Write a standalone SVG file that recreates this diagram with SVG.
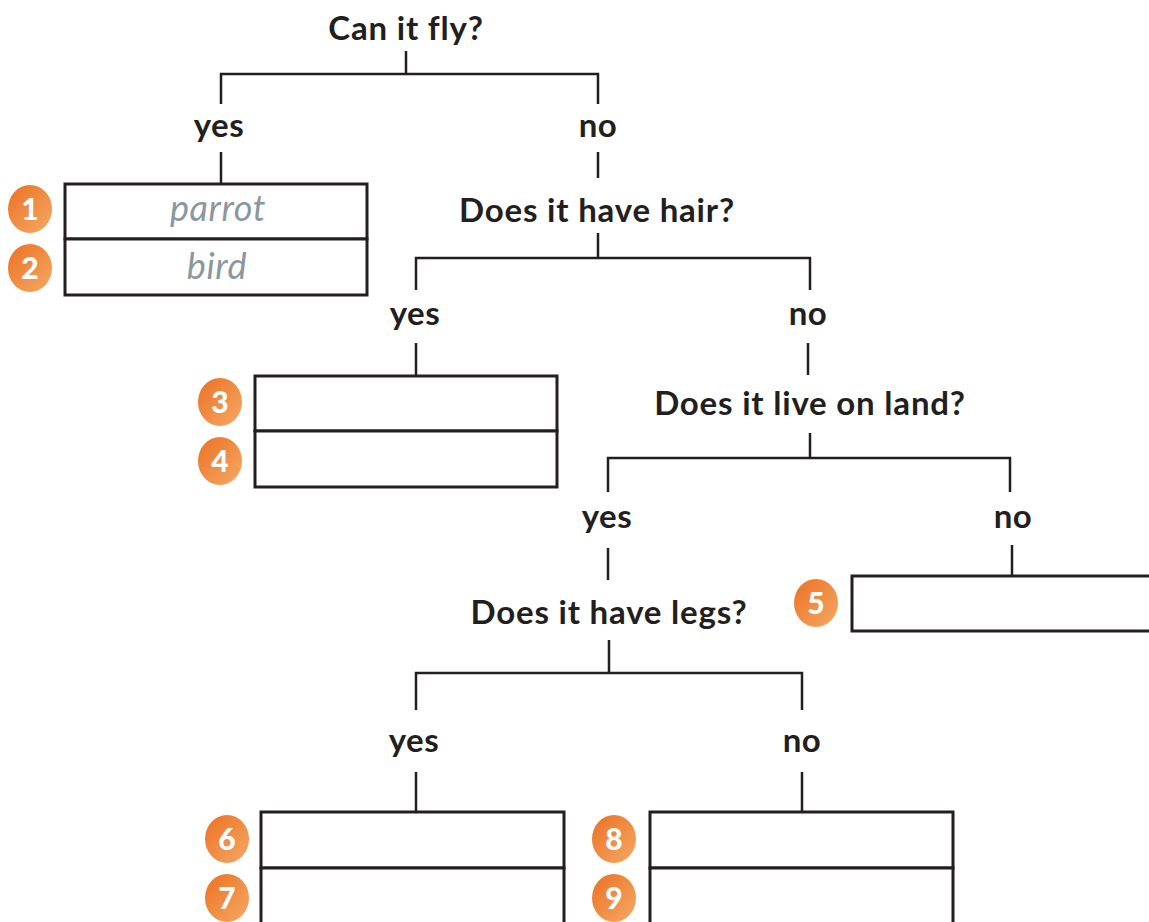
<svg xmlns="http://www.w3.org/2000/svg" width="1149" height="922" viewBox="0 0 1149 922">
<defs>
<linearGradient id="og" x1="0" y1="0" x2="1" y2="1">
<stop offset="0" stop-color="#ec7022"/>
<stop offset="1" stop-color="#f4aa66"/>
</linearGradient>
<style>
.q{font-family:Lato,"Open Sans",sans-serif;font-weight:700;font-size:33px;letter-spacing:0.8px;fill:#231f20;text-anchor:middle}
.a{font-family:Lato,"Open Sans",sans-serif;font-weight:700;font-size:33px;letter-spacing:0.5px;fill:#231f20;text-anchor:middle}
.ans{font-family:Lato,"Open Sans",sans-serif;font-style:italic;font-size:36px;letter-spacing:0.6px;fill:#8a979f;text-anchor:middle}
.box{fill:#fff;stroke:#231f20;stroke-width:3}
.ln{fill:none;stroke:#231f20;stroke-width:2.5}
.bd{fill:url(#og)}
.bn{font-family:Lato,"Open Sans",sans-serif;font-weight:900;font-size:30px;fill:#fff;text-anchor:middle}
</style>
</defs>
<rect width="1149" height="922" fill="#fff"/>
<g id="connectors">
<path class="ln" d="M406 51V74M221 104V74H598V104M221 152V184M598 152V178"/>
<path class="ln" d="M598 233V258M416 290V258H810V290M416 343V376M808 343V375"/>
<path class="ln" d="M810 433V458M608 492V458H1010V492M1012 545V576M608 548V580"/>
<path class="ln" d="M609 640V673M416 710V673H802V710M416 772V812M802 772V812"/>
</g>
<g id="q1"><text class="q" x="406" y="40">Can it fly?</text></g>
<g id="yes1"><text class="a" x="219" y="137">yes</text></g>
<g id="no1"><text class="a" x="598" y="137">no</text></g>
<g id="q2"><text class="q" x="597" y="222">Does it have hair?</text></g>
<g id="yes2"><text class="a" x="415" y="325">yes</text></g>
<g id="no2"><text class="a" x="808" y="325">no</text></g>
<g id="q3"><text class="q" x="810" y="415">Does it live on land?</text></g>
<g id="yes3"><text class="a" x="607" y="528">yes</text></g>
<g id="no3"><text class="a" x="1013" y="528">no</text></g>
<g id="q4"><text class="q" x="609" y="624">Does it have legs?</text></g>
<g id="yes4"><text class="a" x="414" y="752">yes</text></g>
<g id="no4"><text class="a" x="802" y="752">no</text></g>
<g id="box12">
<rect class="box" x="65" y="184" width="302" height="55"/>
<rect class="box" x="65" y="239" width="302" height="56"/>
<text class="ans" x="218" y="221">parrot</text>
<text class="ans" x="217" y="279">bird</text>
<ellipse class="bd" cx="30" cy="209" rx="22" ry="24"/><text class="bn" x="30" y="220">1</text>
<ellipse class="bd" cx="30" cy="268" rx="22" ry="24"/><text class="bn" x="30" y="279">2</text>
</g>
<g id="box34">
<rect class="box" x="255" y="376" width="302" height="55"/>
<rect class="box" x="255" y="431" width="302" height="56"/>
<ellipse class="bd" cx="220" cy="402" rx="22" ry="24"/><text class="bn" x="220" y="413">3</text>
<ellipse class="bd" cx="220" cy="461" rx="22" ry="24"/><text class="bn" x="220" y="472">4</text>
</g>
<g id="box5">
<rect class="box" x="852" y="576" width="310" height="55"/>
<ellipse class="bd" cx="816" cy="603" rx="22" ry="24"/><text class="bn" x="816" y="614">5</text>
</g>
<g id="box67">
<rect class="box" x="261" y="812" width="303" height="56"/>
<rect class="box" x="261" y="868" width="303" height="60"/>
<ellipse class="bd" cx="227" cy="839" rx="22" ry="24"/><text class="bn" x="227" y="850">6</text>
<ellipse class="bd" cx="227" cy="898" rx="22" ry="24"/><text class="bn" x="227" y="909">7</text>
</g>
<g id="box89">
<rect class="box" x="650" y="812" width="303" height="56"/>
<rect class="box" x="650" y="868" width="303" height="60"/>
<ellipse class="bd" cx="614" cy="839" rx="22" ry="24"/><text class="bn" x="614" y="850">8</text>
<ellipse class="bd" cx="614" cy="898" rx="22" ry="24"/><text class="bn" x="614" y="909">9</text>
</g>
</svg>
